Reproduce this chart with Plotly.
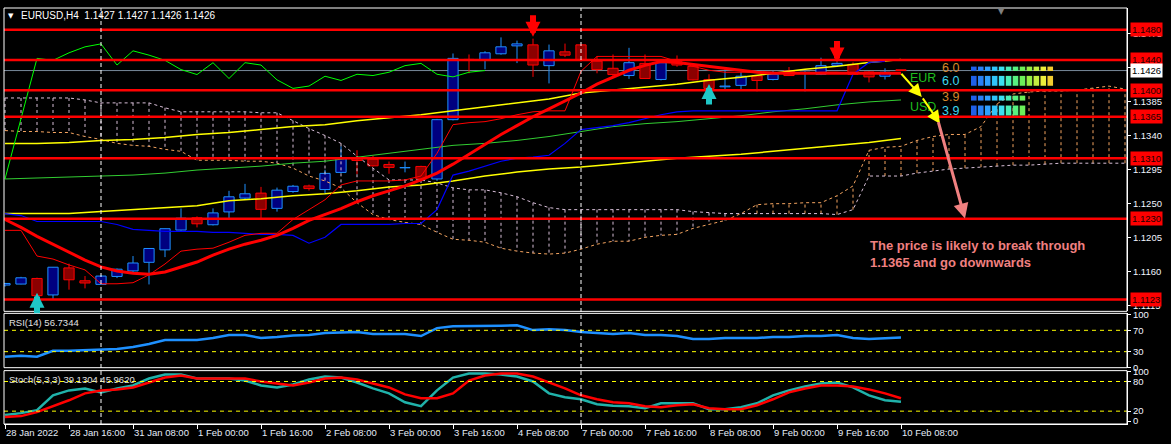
import plotly.graph_objects as go

W, H = 1171, 444
ML, MR, MT, MB = 4, 44, 3, 20
PW, PH = W - ML - MR, H - MT - MB


def pxx(px):
    return (px - ML) / PW


def pxy(py):
    return (H - MB - py) / PH


FONT = "Liberation Sans, Arial, sans-serif"

# ---------------- data ----------------
bar_index = list(range(57))
open_ = [1.11421, 1.11434, 1.11508, 1.11290, 1.11648, 1.11478, 1.11430, 1.11535, 1.11608, 1.11722,
         1.11887, 1.12149, 1.12311, 1.12219, 1.12389, 1.12572, 1.12638, 1.12436, 1.12659, 1.12733,
         1.12685, 1.12912, 1.13100, 1.13087, 1.13017, 1.12973, 1.12991, 1.12825, 1.13610, 1.14408,
         1.14395, 1.14482, 1.14587, 1.14600, 1.14325, 1.14508, 1.14600, 1.14385, 1.14290, 1.14194,
         1.14355, 1.14142, 1.14377, 1.14316, 1.14142, 1.14045, 1.14064, 1.14189, 1.14142, 1.14255,
         1.14225, 1.14211, 1.14329, 1.14342, 1.14241, 1.14185, 1.14270]
high = [1.11450, 1.11530, 1.11519, 1.11660, 1.11704, 1.11540, 1.11550, 1.11640, 1.11805, 1.11910,
        1.12170, 1.12436, 1.12330, 1.12436, 1.12668, 1.12760, 1.12720, 1.12711, 1.12746, 1.12750,
        1.12947, 1.13257, 1.13205, 1.13130, 1.13056, 1.13056, 1.13000, 1.13620, 1.14486, 1.14473,
        1.14516, 1.14699, 1.14656, 1.14682, 1.14604, 1.14617, 1.14610, 1.14451, 1.14473, 1.14561,
        1.14473, 1.14380, 1.14460, 1.14330, 1.14211, 1.14277, 1.14242, 1.14200, 1.14255, 1.14307,
        1.14251, 1.14430, 1.14368, 1.14368, 1.14250, 1.14290, 1.14270]
low = [1.11400, 1.11430, 1.11255, 1.11229, 1.11360, 1.11377, 1.11430, 1.11513, 1.11595, 1.11429,
       1.11791, 1.12140, 1.12184, 1.12210, 1.12302, 1.12560, 1.12302, 1.12393, 1.12642, 1.12672,
       1.12633, 1.12900, 1.12890, 1.12990, 1.12894, 1.12913, 1.12820, 1.12800, 1.13600, 1.14224,
       1.14277, 1.14470, 1.14359, 1.14176, 1.14090, 1.14438, 1.14380, 1.14224, 1.14176, 1.14150,
       1.14150, 1.14130, 1.14310, 1.14130, 1.13993, 1.13993, 1.14002, 1.13985, 1.14130, 1.14190,
       1.13985, 1.14200, 1.14320, 1.14200, 1.14103, 1.14142, 1.14260]
close = [1.11442, 1.11517, 1.11281, 1.11657, 1.11491, 1.11448, 1.11540, 1.11631, 1.11713, 1.11905,
         1.12167, 1.12306, 1.12232, 1.12376, 1.12589, 1.12629, 1.12423, 1.12677, 1.12729, 1.12698,
         1.12899, 1.13100, 1.13070, 1.12999, 1.12978, 1.12975, 1.12825, 1.13610, 1.14421, 1.14395,
         1.14495, 1.14574, 1.14613, 1.14333, 1.14521, 1.14464, 1.14395, 1.14273, 1.14207, 1.14364,
         1.14155, 1.14364, 1.14333, 1.14137, 1.14024, 1.14055, 1.14185, 1.14129, 1.14211, 1.14194,
         1.14238, 1.14325, 1.14355, 1.14211, 1.14176, 1.14238, 1.14260]

tick_bars = [0, 4, 8, 12, 16, 20, 24, 28, 32, 36, 40, 44, 48, 52, 56]
tick_text = ["28 Jan 2022", "28 Jan 16:00", "31 Jan 08:00", "1 Feb 00:00", "1 Feb 16:00",
             "2 Feb 08:00", "3 Feb 00:00", "3 Feb 16:00", "4 Feb 08:00", "7 Feb 00:00",
             "7 Feb 16:00", "8 Feb 08:00", "9 Feb 00:00", "9 Feb 16:00", "10 Feb 08:00"]
separator_bars = [6, 36]

price_ticks = [1.1115, 1.1160, 1.1205, 1.1250, 1.1295, 1.1340, 1.1385, 1.1430, 1.1475]
levels = [1.1480, 1.1440, 1.1400, 1.1365, 1.1310, 1.1230, 1.1123]
current_price = 1.1426
title_text = "EURUSD,H4  1.1427 1.1427 1.1426 1.1426"

# thick red moving average
ma_slow = [1.12289, 1.12184, 1.12066, 1.11962, 1.11857, 1.11752, 1.11661, 1.11608, 1.11576, 1.11563,
           1.11595, 1.11661, 1.11726, 1.11818, 1.11896, 1.11962, 1.12014, 1.12079, 1.12171, 1.12276,
           1.12354, 1.12433, 1.12524, 1.12603, 1.12668, 1.12733, 1.12812, 1.12903, 1.13021, 1.13152,
           1.13283, 1.13414, 1.13531, 1.13649, 1.13754, 1.13858, 1.13963, 1.14081, 1.14172, 1.14264,
           1.14329, 1.14381, 1.14368, 1.14342, 1.14316, 1.14290, 1.14264, 1.14238, 1.14224, 1.14224,
           1.14224, 1.14224, 1.14224, 1.14224, 1.14224, 1.14224, 1.14224]
# thin red moving average
ma_fast = [1.12145, 1.12145, 1.11805, 1.11765, 1.11687, 1.11622, 1.11438, 1.11438, 1.11452, 1.11556,
           1.11700, 1.11870, 1.11896, 1.11909, 1.11988, 1.12079, 1.12106, 1.12106, 1.12289, 1.12420,
           1.12550, 1.12746, 1.12799, 1.12799, 1.12799, 1.12812, 1.12864, 1.13165, 1.13544, 1.13570,
           1.13584, 1.13623, 1.13675, 1.13714, 1.13727, 1.13727, 1.14251, 1.14447, 1.14447, 1.14447,
           1.14447, 1.14447, 1.14381, 1.14316, 1.14264, 1.14238, 1.14238, 1.14238, 1.14238, 1.14224,
           1.14224, 1.14238, 1.14238, 1.14224, 1.14224, 1.14224, 1.14224]
# blue line (kijun)
kijun = [1.12367, 1.12341, 1.12262, 1.12262, 1.12262, 1.12262, 1.12262, 1.12223, 1.12158, 1.12145,
         1.12132, 1.12132, 1.12132, 1.12119, 1.12119, 1.12106, 1.12092, 1.12092, 1.12079, 1.11975,
         1.12053, 1.12223, 1.12223, 1.12223, 1.12223, 1.12236, 1.12236, 1.12420, 1.12877, 1.12929,
         1.12995, 1.13060, 1.13100, 1.13113, 1.13139, 1.13296, 1.13479, 1.13505, 1.13531, 1.13570,
         1.13623, 1.13675, 1.13714, 1.13727, 1.13727, 1.13727, 1.13727, 1.13727, 1.13727, 1.13727,
         1.13727, 1.13727, 1.13727, 1.14211, 1.14368, 1.14381]
chikou_shift = 26

# slow green and yellow averages, read every few bars
green_bars = [0, 4, 8, 10, 12, 14, 16, 18, 20, 22, 24, 26, 28, 30, 32, 34, 36, 38, 40, 42, 44, 46,
              48, 50, 52, 54, 56]
green_ma = [1.12825, 1.12851, 1.12877, 1.12903, 1.12943, 1.12969, 1.12995, 1.13034, 1.13060, 1.13113,
            1.13165, 1.13217, 1.13270, 1.13296, 1.13335, 1.13387, 1.13453, 1.13518, 1.13557, 1.13584,
            1.13623, 1.13662, 1.13714, 1.13754, 1.13806, 1.13845, 1.13871]
yellow_bars = list(range(0, 57, 2))
yellow_upper = [1.13296, 1.13296, 1.13309, 1.13335, 1.13348, 1.13374, 1.13414, 1.13440, 1.13479, 1.13518,
                1.13544, 1.13597, 1.13636, 1.13675, 1.13727, 1.13780, 1.13832, 1.13884, 1.13963, 1.14002,
                1.14041, 1.14080, 1.14133, 1.14172, 1.14224, 1.14277, 1.14316, 1.14368, 1.14408]
yellow_lower = [1.12367, 1.12367, 1.12367, 1.12393, 1.12420, 1.12439, 1.12472, 1.12537, 1.12563, 1.12603,
                1.12629, 1.12668, 1.12720, 1.12746, 1.12799, 1.12864, 1.12917, 1.12956, 1.12982, 1.13021,
                1.13060, 1.13100, 1.13126, 1.13152, 1.13191, 1.13230, 1.13270, 1.13309, 1.13361]

# Ichimoku cloud (extends 14 bars into the future)
cloud_bars = list(range(71))
span_a = [1.13897, 1.13897, 1.13897, 1.13897, 1.13897, 1.13871, 1.13832, 1.13832, 1.13832, 1.13832,
          1.13767, 1.13714, 1.13714, 1.13714, 1.13714, 1.13714, 1.13701, 1.13701, 1.13597, 1.13492,
          1.13400, 1.13296, 1.13126, 1.12969, 1.12812, 1.12812, 1.12812, 1.12773, 1.12707, 1.12681,
          1.12681, 1.12642, 1.12590, 1.12511, 1.12446, 1.12419, 1.12419, 1.12419, 1.12419, 1.12419,
          1.12419, 1.12419, 1.12419, 1.12393, 1.12380, 1.12367, 1.12367, 1.12367, 1.12367, 1.12367,
          1.12367, 1.12367, 1.12354, 1.12419, 1.12864, 1.12864, 1.12864, 1.12903, 1.12930, 1.12956,
          1.12969, 1.12982, 1.12995, 1.13008, 1.13008, 1.13021, 1.13034, 1.13034, 1.13034, 1.13034,
          1.13034]
span_b = [1.13466, 1.13453, 1.13453, 1.13440, 1.13440, 1.13387, 1.13348, 1.13296, 1.13270, 1.13257,
          1.13217, 1.13191, 1.13073, 1.13073, 1.13073, 1.13060, 1.13060, 1.13034, 1.12969, 1.12864,
          1.12799, 1.12707, 1.12511, 1.12354, 1.12289, 1.12250, 1.12223, 1.12119, 1.12027, 1.12014,
          1.11988, 1.11909, 1.11870, 1.11844, 1.11831, 1.11844, 1.11896, 1.11962, 1.12001, 1.12001,
          1.12053, 1.12079, 1.12092, 1.12171, 1.12223, 1.12276, 1.12367, 1.12485, 1.12498, 1.12498,
          1.12511, 1.12511, 1.12603, 1.12733, 1.13204, 1.13244, 1.13257, 1.13335, 1.13387, 1.13414,
          1.13414, 1.13518, 1.13819, 1.13950, 1.13976, 1.13989, 1.13989, 1.14002, 1.14028, 1.14054,
          1.14015]

# signal arrows
buy_bars = [2, 44]
buy_prices = [1.11320, 1.14081]
sell_bars = [33, 52]
sell_prices = [1.14708, 1.14368]

# forecast path
forecast_bars = [55.94, 57.30, 58.44]
forecast_prices = [1.14238, 1.13911, 1.13557]
target_from = (58.31, 1.13597)
target_to = (60.0, 1.12302)
forecast_text = "The price is likely to break through<br>1.1365 and go downwards"

# oscillators
rsi = [20.4, 22.2, 20.4, 31.5, 31.5, 32.4, 33.3, 35.2, 38.9, 44.4,
       51.9, 51.9, 51.9, 55.6, 61.1, 61.1, 55.6, 57.4, 60.2, 61.1,
       64.8, 65.7, 66.7, 63.0, 63.0, 63.0, 59.3, 74.1, 77.8, 77.8,
       77.8, 78.7, 79.6, 70.4, 72.2, 70.4, 66.7, 64.8, 63.0, 64.8,
       61.1, 61.1, 59.3, 53.7, 53.7, 55.6, 55.6, 55.6, 57.4, 57.4,
       59.3, 59.3, 61.1, 55.6, 53.7, 55.6, 56.73]
rsi_label = "RSI(14) 56.7344"
stoch_k = [12, 16, 22, 52, 62, 66, 58, 66, 72, 86,
           94, 94, 86, 86, 86, 82, 72, 68, 74, 84,
           90, 88, 78, 66, 56, 38, 30, 62, 88, 96,
           96, 94, 90, 80, 56, 48, 44, 34, 31, 30,
           26, 36, 36, 36, 24, 24, 28, 36, 52, 62,
           70, 76, 78, 68, 52, 42, 39.13]
stoch_d = [8, 10, 18, 30, 42, 56, 62, 64, 68, 78,
           88, 92, 86, 86, 86, 86, 80, 76, 72, 78,
           86, 88, 84, 76, 68, 54, 46, 46, 56, 82,
           92, 96, 96, 90, 78, 66, 52, 44, 38, 36,
           30, 28, 32, 34, 26, 24, 24, 32, 44, 58,
           66, 72, 72, 70, 64, 56, 45.96]
stoch_label = "Stoch(5,3,3) 39.1304 45.9620"

# currency strength meter
strength_names = ["EUR", "USD"]
strength_values = [6.0, 3.9]

# ---------------- figure ----------------
fig = go.Figure()


def add_line(x, y, color, width, yaxis="y", dash=None):
    fig.add_trace(go.Scatter(x=x, y=y, mode="lines", xaxis="x", yaxis=yaxis,
                             line=dict(color=color, width=width, dash=dash),
                             hoverinfo="skip", showlegend=False))


LAV = "#D8BFD8"
ORG = "#F4A460"
BULL_LINE, BULL_FILL = "#1E90FF", "#000080"
BEAR_LINE, BEAR_FILL = "#FF0000", "#8B0000"
MIN_BODY = 0.00003

bull = [i for i in bar_index if close[i] >= open_[i]]
bear = [i for i in bar_index if close[i] < open_[i]]


def wicks(idx):
    xs, ys = [], []
    for i in idx:
        top, bot = max(open_[i], close[i]), min(open_[i], close[i])
        xs += [i, i, None, i, i, None]
        ys += [high[i], top, None, bot, low[i], None]
    return xs, ys


for idx, lc, fc in ((bull, BULL_LINE, BULL_FILL), (bear, BEAR_LINE, BEAR_FILL)):
    fig.add_trace(go.Bar(
        x=idx,
        y=[max(abs(close[i] - open_[i]), MIN_BODY) for i in idx],
        base=[min(open_[i], close[i]) for i in idx],
        width=0.64, marker=dict(color=fc, line=dict(color=lc, width=1)),
        xaxis="x", yaxis="y", hoverinfo="skip", showlegend=False))
    wx, wy = wicks(idx)
    add_line(wx, wy, lc, 1)

# cloud hatching
hl_x, hl_y, ho_x, ho_y = [], [], [], []
for b, a, s in zip(cloud_bars, span_a, span_b):
    if a >= s:
        hl_x += [b, b, None]
        hl_y += [a, s, None]
    else:
        ho_x += [b, b, None]
        ho_y += [a, s, None]
add_line(hl_x, hl_y, LAV, 1, dash="3px,3px")
add_line(ho_x, ho_y, ORG, 1, dash="3px,3px")
add_line(cloud_bars, span_a, LAV, 1, dash="3px,3px")
add_line(cloud_bars, span_b, ORG, 1, dash="3px,3px")

add_line(green_bars, green_ma, "#32CD32", 1)
add_line(yellow_bars, yellow_lower, "#FFFF00", 1.5)
add_line(yellow_bars, yellow_upper, "#FFFF00", 1.5)
add_line(bar_index[:len(kijun)], kijun, "#0000FF", 1.2)
add_line([b - chikou_shift for b in bar_index[chikou_shift:]], close[chikou_shift:], "#00FF00", 1)
add_line(bar_index, ma_fast, "#FF0000", 1)
add_line(bar_index, ma_slow, "#FF0000", 3)

# oscillators
add_line(bar_index, rsi, "#1E90FF", 2.5, yaxis="y2")
add_line(bar_index, stoch_k, "#20B2AA", 2.5, yaxis="y3")
add_line(bar_index, stoch_d, "#FF0000", 2.5, yaxis="y3")

MAIN_DOM = [0.2708, 1.0]
RSI_DOM = [0.1354, 0.2660]
STO_DOM = [0.0, 0.1283]

shapes = []
shapes.append(dict(type="line", xref="paper", x0=0, x1=1, yref="y", y0=current_price, y1=current_price,
                   line=dict(color="#778899", width=1), layer="below"))
for lv in levels:
    shapes.append(dict(type="line", xref="paper", x0=0, x1=1, yref="y", y0=lv, y1=lv,
                       line=dict(color="#FF0000", width=2.5)))
for v in (70, 30):
    shapes.append(dict(type="line", xref="paper", x0=0, x1=1, yref="y2", y0=v, y1=v,
                       line=dict(color="#FFFF00", width=1, dash="4px,4px")))
for v in (80, 20):
    shapes.append(dict(type="line", xref="paper", x0=0, x1=1, yref="y3", y0=v, y1=v,
                       line=dict(color="#FFFF00", width=1, dash="4px,4px")))
for b in separator_bars:
    shapes.append(dict(type="line", xref="x", x0=b, x1=b, yref="paper", y0=0, y1=1,
                       line=dict(color="white", width=1, dash="4px,3px")))
for dom in (MAIN_DOM, RSI_DOM, STO_DOM):
    shapes.append(dict(type="rect", xref="paper", x0=0, x1=1, yref="paper", y0=dom[0], y1=dom[1],
                       line=dict(color="white", width=1)))

# strength meter bars
meter_colors = ["#1F5FE8", "#2A80F5", "#2FA0FF", "#30C4FA", "#3CE0F0", "#48F0B8",
                "#58F080", "#6CF058", "#98EE44", "#C4EE40", "#EEEE3C", "#F2CC30"]
row_tops = [(62.3, 66.7, 71.7, 81.7), (91.7, 96.7, 101.7, 111.7)]
for (t1, b1, t2, b2), val in zip(row_tops, strength_values):
    n = int(round(val * 2))
    for i in range(n):
        x0 = 971 + i * 6.95
        for (tt, bb) in ((t1, b1), (t2, b2)):
            shapes.append(dict(type="rect", xref="paper", yref="paper",
                               x0=pxx(x0), x1=pxx(x0 + 5.6), y0=pxy(bb), y1=pxy(tt),
                               line=dict(width=0), fillcolor=meter_colors[i]))

annotations = []
for lv in levels:
    annotations.append(dict(xref="paper", x=1, xanchor="left", xshift=3, yref="y", y=lv,
                            text=f"{lv:.4f}", showarrow=False, bgcolor="#FF0000", borderpad=1,
                            font=dict(family=FONT, size=9.5, color="#200000")))
annotations.append(dict(xref="paper", x=1, xanchor="left", xshift=3, yref="y", y=current_price,
                        text=f"{current_price:.4f}", showarrow=False, bgcolor="#FFFFFF", borderpad=1,
                        font=dict(family=FONT, size=9.5, color="#000000")))
annotations.append(dict(xref="paper", yref="paper", x=pxx(6), y=pxy(11), xanchor="left", yanchor="middle",
                        text="▼", showarrow=False, font=dict(family="DejaVu Sans", size=7, color="white")))
annotations.append(dict(xref="paper", yref="paper", x=pxx(19), y=pxy(11), xanchor="left", yanchor="middle",
                        text=title_text, showarrow=False, font=dict(family=FONT, size=10, color="white")))
annotations.append(dict(xref="paper", yref="paper", x=pxx(996), y=pxy(7), xanchor="left", yanchor="middle",
                        text="▼", showarrow=False, font=dict(family="DejaVu Sans", size=8, color="#808080")))
annotations.append(dict(xref="paper", yref="paper", x=pxx(7), y=pxy(321), xanchor="left", yanchor="middle",
                        text=rsi_label, showarrow=False, font=dict(family=FONT, size=9.5, color="#E0E0E0")))
annotations.append(dict(xref="paper", yref="paper", x=pxx(7), y=pxy(379), xanchor="left", yanchor="middle",
                        text=stoch_label, showarrow=False, font=dict(family=FONT, size=9.5, color="#E0E0E0")))
name_y = [74, 103]
num_y = [(64, 77), (93, 107)]
for nm, val, ny, (y1, y2) in zip(strength_names, strength_values, name_y, num_y):
    annotations.append(dict(xref="paper", yref="paper", x=pxx(908), y=pxy(ny), xanchor="left",
                            yanchor="middle", text=nm, showarrow=False,
                            font=dict(family=FONT, size=12.5, color="#1EBE1E")))
    annotations.append(dict(xref="paper", yref="paper", x=pxx(961), y=pxy(y1), xanchor="right",
                            yanchor="middle", text=f"{val:.1f}", showarrow=False,
                            font=dict(family=FONT, size=12.5, color="#D8882A")))
    annotations.append(dict(xref="paper", yref="paper", x=pxx(961), y=pxy(y2), xanchor="right",
                            yanchor="middle", text=f"{val:.1f}", showarrow=False,
                            font=dict(family=FONT, size=12.5, color="#3CD8F0")))
annotations.append(dict(xref="paper", yref="paper", x=pxx(868), y=pxy(234), xanchor="left", yanchor="top",
                        align="left", text=forecast_text, showarrow=False,
                        font=dict(family=FONT, size=13, color="#F08080", weight="bold")))
for i in range(len(forecast_bars) - 1):
    annotations.append(dict(xref="x", yref="y", x=forecast_bars[i + 1], y=forecast_prices[i + 1],
                            axref="x", ayref="y", ax=forecast_bars[i], ay=forecast_prices[i],
                            text="", showarrow=True, arrowhead=2, arrowsize=1.3, arrowwidth=2,
                            arrowcolor="#FFFF00"))
annotations.append(dict(xref="x", yref="y", x=target_to[0], y=target_to[1],
                        axref="x", ayref="y", ax=target_from[0], ay=target_from[1],
                        text="", showarrow=True, arrowhead=2, arrowsize=1.0, arrowwidth=3,
                        arrowcolor="#F08080"))
for b, p in zip(sell_bars, sell_prices):
    annotations.append(dict(xref="x", yref="y", x=b, y=p, ax=0, ay=-23, text="", showarrow=True,
                            arrowhead=2, arrowsize=0.5, arrowwidth=6, arrowcolor="#FF0000"))
for b, p in zip(buy_bars, buy_prices):
    annotations.append(dict(xref="x", yref="y", x=b, y=p, ax=0, ay=22, text="", showarrow=True,
                            arrowhead=2, arrowsize=0.5, arrowwidth=6, arrowcolor="#1FC6C6"))

axis_common = dict(side="right", showline=True, linecolor="white", linewidth=1, ticks="outside",
                   ticklen=3, tickcolor="white", showgrid=False, zeroline=False, fixedrange=True,
                   anchor="x", tickfont=dict(family=FONT, size=9.5, color="#F0F4FF"))

fig.update_layout(
    width=W, height=H,
    margin=dict(l=ML, r=MR, t=MT, b=MB),
    paper_bgcolor="#000000", plot_bgcolor="#000000",
    showlegend=False, barmode="overlay",
    xaxis=dict(domain=[0, 1], range=[-0.0625, 70.125], anchor="y3", showgrid=False, zeroline=False,
               showline=True, linecolor="white", ticks="outside", ticklen=4, tickcolor="white",
               tickvals=tick_bars, ticktext=tick_text, ticklabelposition="outside right",
               tickfont=dict(family=FONT, size=9.5, color="#E4ECF8"), fixedrange=True),
    yaxis=dict(domain=MAIN_DOM, range=[1.11073, 1.15088], tickvals=price_ticks,
               ticktext=[f"{v:.4f}" for v in price_ticks], **axis_common),
    yaxis2=dict(domain=RSI_DOM, range=[0, 101.8], tickvals=[0, 30, 70, 100], **axis_common),
    yaxis3=dict(domain=STO_DOM, range=[-6, 102], tickvals=[0, 20, 80, 100], **axis_common),
    shapes=shapes,
    annotations=annotations,
)

fig.write_html("out.html", config={"displayModeBar": False},
               post_script="document.body.style.margin='0';document.body.style.background='#000';")
